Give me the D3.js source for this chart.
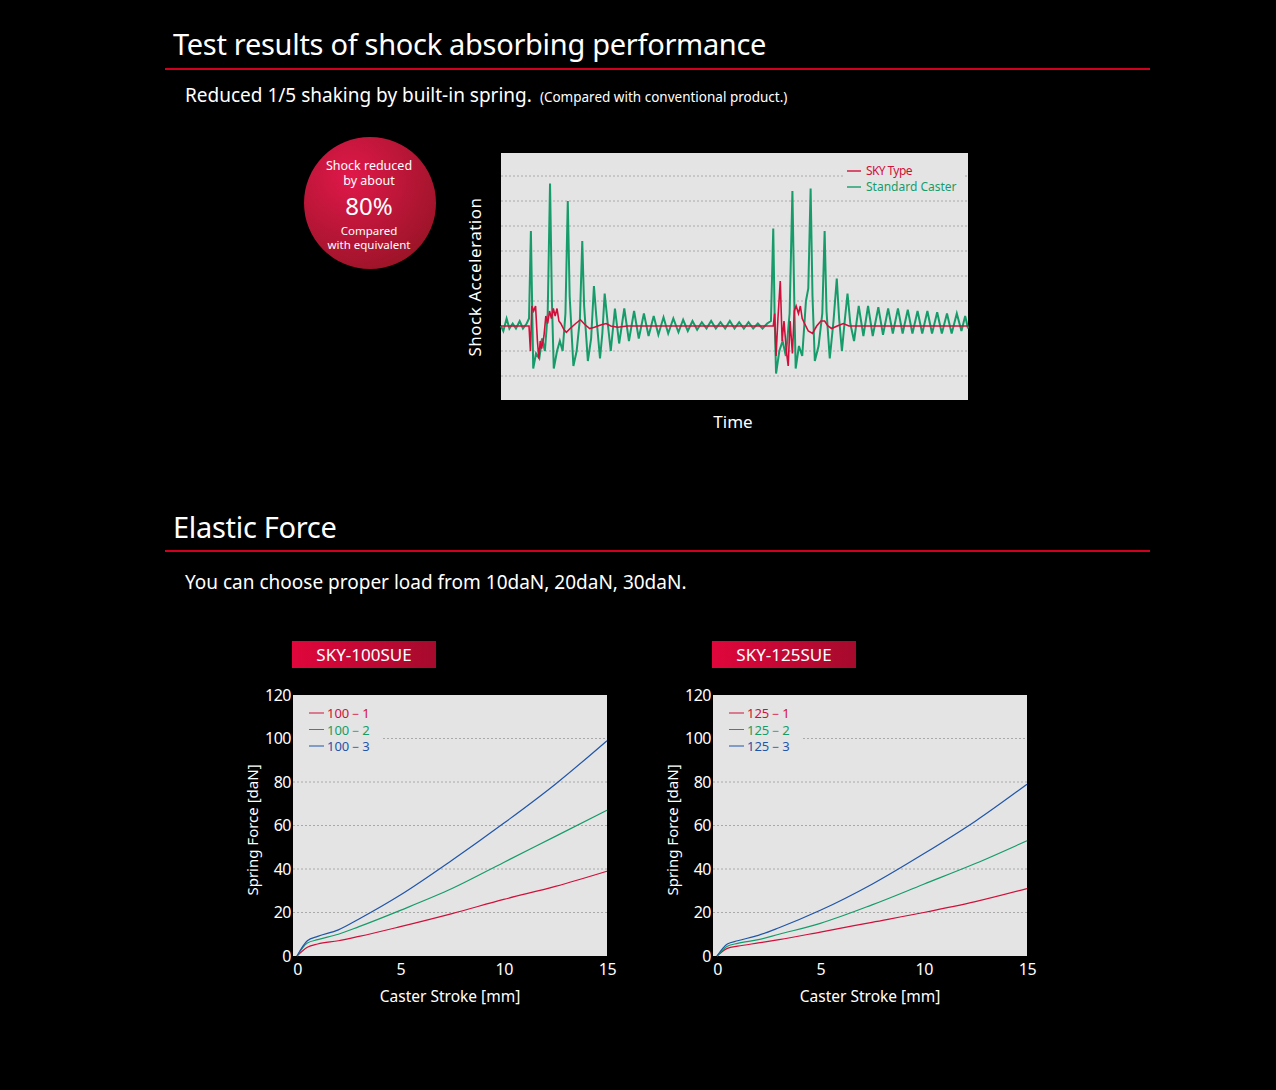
<!DOCTYPE html>
<html><head><meta charset="utf-8">
<script src="https://cdn.jsdelivr.net/npm/d3@7"></script>
<style>
body{margin:0;background:#000;}
svg text{font-family:"Noto Sans",sans-serif;}
</style></head>
<body><svg id="chart" width="1276" height="1090"></svg>
<script>
// shock test: time (0-100) / acceleration (grid units)
var greenT = [0,0.5,1.2,1.8,2.5,3.2,4,4.7,5.5,6.0,6.4,6.7,6.9,7.5,8.2,8.8,9.4,10.0,10.5,10.9,11.3,12,12.6,13.2,13.8,14.3,14.7,15.5,16.2,16.9,17.4,17.8,18.6,19.3,19.9,20.4,21.2,21.7,22.2,22.8,23.5,24.4,25.3,26.4,27.4,28.5,29.5,30.6,31.6,32.7,33.7,34.8,35.8,36.9,38,39,40,41,42,43,44,45,46,47,48,49,50,51,52,53,54,55,56,57,57.8,58.3,58.6,58.9,59.6,60.3,61,61.8,62.4,62.8,63.1,63.8,64.5,65.3,65.8,66.3,66.7,67.2,68,68.8,69.3,69.7,70.4,71.2,71.9,72.4,73,73.6,74.2,74.8,75.6,76.6,77.6,78.6,79.6,80.8,81.8,82.9,83.9,85,86,87.1,88.1,89.2,90.2,91.3,92.3,93.4,94.4,95.5,96.5,97.6,98.6,99.4,100];
var greenV = [0,-0.2,0.3,-0.1,0.1,-0.1,0.2,-0.1,0.1,0.3,3.8,0.5,-1.7,-1.1,-1.3,-0.5,-1.0,0.5,5.7,1.0,-1.7,-1.0,-0.6,-1.0,0.5,5.0,1.2,-1.6,-1.0,0.3,3.4,0.8,-1.4,-0.5,1.6,0.4,-1.3,-0.3,1.3,0.2,-1.0,0.7,-0.7,0.7,-0.6,0.6,-0.5,0.5,-0.4,0.4,-0.35,0.35,-0.3,0.3,-0.25,0.25,-0.2,0.2,-0.15,0.15,-0.1,0.2,-0.1,0.15,-0.1,0.2,-0.1,0.15,-0.1,0.15,-0.1,0.1,-0.1,0.1,0.2,3.9,0.3,-1.9,-1.0,-0.6,-1.2,0.5,5.4,1.0,-1.7,-0.8,-1.2,1.0,1.5,5.5,1.2,-1.4,-0.8,0.5,3.8,0.6,-1.3,0.2,1.9,0.3,-1.0,0.2,1.3,0.1,-0.6,0.8,-0.4,0.8,-0.4,0.75,-0.35,0.7,-0.3,0.7,-0.3,0.65,-0.3,0.6,-0.3,0.6,-0.3,0.55,-0.3,0.5,-0.3,0.5,-0.2,0.4,-0.1];
var redT = [0,6,6.3,6.6,7,7.4,7.8,8.1,8.4,8.7,9.2,9.6,10.0,10.4,10.8,11.2,11.6,12,12.4,12.8,13.5,14,14.8,16,17,18,19,20,21.5,22.5,23.5,25,27,58.3,58.6,58.9,59.3,59.8,60.2,60.6,61.1,61.5,61.9,62.4,62.8,63.2,63.7,64.1,64.5,65,65.8,66.7,67.6,68.5,69.3,70,70.8,72,73.3,74.5,76,100];
var redV = [0,0,-1.0,0.8,0.6,0.8,-0.6,-1.3,-0.6,-0.9,-0.4,0.4,0.1,0.6,0.3,0.7,0.4,0.7,0.2,0.1,-0.15,-0.25,-0.1,0.1,0.25,0.05,-0.1,-0.05,0.05,0.1,0,-0.05,0,0,0.5,-1.2,0.3,1.8,-0.6,0.2,-1.0,-1.6,0.2,-1.1,0.6,0.8,0.5,0.8,0.3,0.1,-0.2,-0.3,0,0.2,0.2,0,-0.1,0,0.1,0,0,0];
var shockGrid = [-2,-1,1,2,3,4,5,6];

// elastic force (stroke mm -> daN)
var strokeMm = [0,0.5,1,2,3,5,7.5,10,12.5,15];
var sky100_1 = [0,4,5.5,7,9,13.5,19.5,26,32,39];
var sky100_2 = [0,6,7.5,10,13.5,21,31,43,55,67];
var sky100_3 = [0,7,9,12,17,28,44,61,79,99];
var sky125_1 = [0,3.5,4.5,6,7.5,11,15.5,20,25,31];
var sky125_2 = [0,4.5,5.8,7.5,10,15,23.5,33,42.5,53];
var sky125_3 = [0,5.5,7,9.5,13,21,33,47,62,79];
var forceTicks = [0,20,40,60,80,100,120];
var strokeTicks = [0,5,10,15];

var RED = "#d0103a", GREEN = "#169c6a", BLUE = "#1f55a8";
var svg = d3.select("#chart");

var defs = svg.append("defs");
var rg = defs.append("radialGradient").attr("id","badge").attr("cx","35%").attr("cy","30%").attr("r","75%");
rg.append("stop").attr("offset","0%").attr("stop-color","#e0184a");
rg.append("stop").attr("offset","100%").attr("stop-color","#9c1428");
var lg = defs.append("linearGradient").attr("id","tag");
lg.append("stop").attr("offset","0%").attr("stop-color","#e0063c");
lg.append("stop").attr("offset","100%").attr("stop-color","#a50a2c");

// headings
function heading(y, txt, lineY) {
  svg.append("text").attr("x",173).attr("y",y).attr("fill","#fff").attr("font-size",29).attr("letter-spacing","-0.3").text(txt);
  svg.append("line").attr("x1",165).attr("x2",1150).attr("y1",lineY).attr("y2",lineY).attr("stroke","#d0001e").attr("stroke-width",2);
}
heading(55, "Test results of shock absorbing performance", 69);
heading(538, "Elastic Force", 551);
var sub = svg.append("text").attr("x",185).attr("y",102).attr("fill","#fff").attr("font-size",19);
sub.append("tspan").text("Reduced 1/5 shaking by built-in spring.");
sub.append("tspan").attr("font-size",13.5).attr("dx",8).text("(Compared with conventional product.)");
svg.append("text").attr("x",185).attr("y",589).attr("fill","#fff").attr("font-size",19).text("You can choose proper load from 10daN, 20daN, 30daN.");

// badge
svg.append("circle").attr("cx",370).attr("cy",203).attr("r",66).attr("fill","url(#badge)");
[["Shock reduced",170,12.5],["by about",185,12.5],["80%",215,24],["Compared",235,11.5],["with equivalent",249,11.5]].forEach(function (d) {
  svg.append("text").attr("x",369).attr("y",d[1]).attr("text-anchor","middle").attr("fill","#fff").attr("font-size",d[2]).text(d[0]);
});

// shock chart
var sx = d3.scaleLinear().domain([0,100]).range([501,968]);
var sy = d3.scaleLinear().domain([-2.96,6.92]).range([400,153]);
svg.append("rect").attr("x",501).attr("y",153).attr("width",467).attr("height",247).attr("fill","#e4e4e4");
svg.selectAll(".sgrid").data(shockGrid).enter().append("line")
  .attr("x1",501).attr("x2",968).attr("y1",function (d) {return sy(d);}).attr("y2",function (d) {return sy(d);})
  .attr("stroke","#999").attr("stroke-dasharray","2,2").attr("stroke-width",0.8);
var sline = d3.line().x(function (d) {return sx(d[0]);}).y(function (d) {return sy(d[1]);});
svg.append("path").attr("d",sline(d3.zip(greenT,greenV))).attr("fill","none").attr("stroke",GREEN).attr("stroke-width",2);
svg.append("path").attr("d",sline(d3.zip(redT,redV))).attr("fill","none").attr("stroke",RED).attr("stroke-width",1.6);
svg.append("rect").attr("x",843).attr("y",160).attr("width",120).attr("height",36).attr("fill","#e4e4e4");
[["SKY Type",RED,175],["Standard Caster",GREEN,191]].forEach(function (d) {
  svg.append("line").attr("x1",847).attr("x2",861).attr("y1",d[2]-4).attr("y2",d[2]-4).attr("stroke",d[1]).attr("stroke-width",1.4);
  svg.append("text").attr("x",866).attr("y",d[2]).attr("fill",d[1]).attr("font-size",12).attr("letter-spacing",d[0]=="SKY Type"?"-0.6":"0").text(d[0]);
});
svg.append("text").attr("transform","translate(481,277) rotate(-90)").attr("text-anchor","middle").attr("fill","#fff").attr("font-size",17).attr("letter-spacing","0.5").text("Shock Acceleration");
svg.append("text").attr("x",733).attr("y",428).attr("text-anchor","middle").attr("fill","#fff").attr("font-size",17).text("Time");

// force charts
function forceChart(left, title, names, series) {
  var right = left + 314;
  var x = d3.scaleLinear().domain([0,15]).range([left+4,right]);
  var y = d3.scaleLinear().domain([0,120]).range([956,695]);
  var tagX = left - 1;
  svg.append("rect").attr("x",tagX).attr("y",641).attr("width",144).attr("height",27).attr("fill","url(#tag)");
  svg.append("text").attr("x",tagX+72).attr("y",661).attr("text-anchor","middle").attr("fill","#fff").attr("font-size",17).text(title);
  svg.append("rect").attr("x",left).attr("y",695).attr("width",314).attr("height",261).attr("fill","#e4e4e4");
  svg.selectAll(null).data(forceTicks.filter(function (d) {return d > 0 && d < 120;})).enter().append("line")
    .attr("x1",function (d) {return d == 100 ? left+90 : left;}).attr("x2",right)
    .attr("y1",function (d) {return y(d);}).attr("y2",function (d) {return y(d);})
    .attr("stroke","#999").attr("stroke-dasharray","2,2").attr("stroke-width",0.8);
  var ya = svg.append("g").attr("transform","translate("+left+",0)").call(d3.axisLeft(y).tickValues(forceTicks).tickSize(0).tickPadding(2));
  var xa = svg.append("g").attr("transform","translate(0,956)").call(d3.axisBottom(x).tickValues(strokeTicks).tickSize(0).tickPadding(8));
  [ya,xa].forEach(function (a) {
    a.select(".domain").remove();
    a.selectAll("text").attr("fill","#fff").attr("font-size",16).attr("font-family","Noto Sans").attr("letter-spacing","-0.5");
  });
  var line = d3.line().curve(d3.curveMonotoneX).x(function (d) {return x(d[0]);}).y(function (d) {return y(d[1]);});
  var colors = [RED,GREEN,BLUE];
  series.forEach(function (s,i) {
    svg.append("path").attr("d",line(d3.zip(strokeMm,s))).attr("fill","none").attr("stroke",colors[i]).attr("stroke-width",1.2);
    var ly = 713 + i*16.5;
    svg.append("line").attr("x1",left+16).attr("x2",left+31).attr("y1",ly).attr("y2",ly).attr("stroke",colors[i]);
    svg.append("text").attr("x",left+34).attr("y",ly+5).attr("fill",colors[i]).attr("font-size",13).text(names[i]);
  });
  svg.append("text").attr("transform","translate("+(left-35)+",830) rotate(-90)").attr("text-anchor","middle").attr("fill","#fff").attr("font-size",15).text("Spring Force [daN]");
  svg.append("text").attr("x",(left+right)/2).attr("y",1002).attr("text-anchor","middle").attr("fill","#fff").attr("font-size",15.5).text("Caster Stroke [mm]");
}
forceChart(293, "SKY-100SUE", ["100－1","100－2","100－3"], [sky100_1,sky100_2,sky100_3]);
forceChart(713, "SKY-125SUE", ["125－1","125－2","125－3"], [sky125_1,sky125_2,sky125_3]);
</script></body></html>
